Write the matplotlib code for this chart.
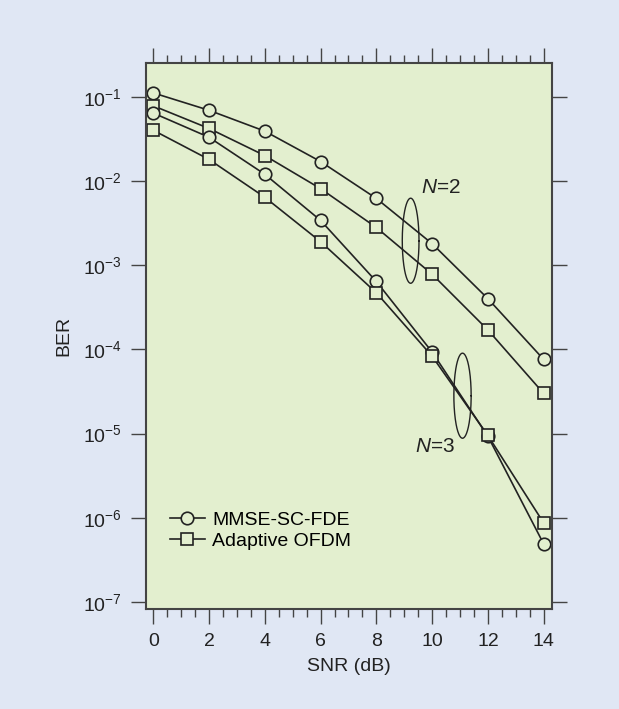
import numpy as np
import matplotlib
matplotlib.use("Agg")
import matplotlib.pyplot as plt
from matplotlib.ticker import MultipleLocator, NullLocator, LogLocator

# --- Data ---
snr_db = [0, 2, 4, 6, 8, 10, 12, 14]

# N = 2
mmse_n2 = [0.111, 0.069, 0.039, 0.017, 0.0062, 0.0018, 4.0e-4, 7.6e-5]
ofdm_n2 = [0.078, 0.042, 0.020, 0.0081, 0.0028, 7.8e-4, 1.7e-4, 3.0e-5]
# N = 3
mmse_n3 = [0.064, 0.033, 0.012, 0.0034, 6.4e-4, 9.3e-5, 9.3e-6, 4.9e-7]
ofdm_n3 = [0.040, 0.018, 0.0064, 0.0019, 4.7e-4, 8.3e-5, 9.5e-6, 8.7e-7]

series_labels = ["MMSE-SC-FDE", "Adaptive OFDM"]

# ellipse groupings: (x center, log10 y center, width in dB, height in decades)
ellipse_n2 = (9.23, -2.71, 0.60, 1.01)
ellipse_n3 = (11.09, -4.55, 0.62, 1.01)

FIG_BG = "#e0e7f4"
AX_BG = "#e3efcf"
INK = "#222222"
SPINE = "#444444"

plt.rcParams["font.family"] = ["Liberation Sans", "DejaVu Sans"]
plt.rcParams["mathtext.fontset"] = "custom"
plt.rcParams["mathtext.rm"] = "Liberation Sans"
plt.rcParams["mathtext.it"] = "Liberation Sans:italic"

fig = plt.figure(figsize=(6.19, 7.09), dpi=100, facecolor=FIG_BG)
ax = fig.add_axes([0.2354, 0.1410, 0.8918 - 0.2354, 0.9111 - 0.1410])
ax.set_facecolor(AX_BG)

style = dict(color=INK, lw=1.2, markersize=9, markeredgewidth=1.2,
             markerfacecolor=AX_BG, markeredgecolor=INK)

ax.plot(snr_db, mmse_n2, marker="o", label=series_labels[0], **style)
ax.plot(snr_db, ofdm_n2, marker="s", label=series_labels[1], **style)
ax.plot(snr_db, mmse_n3, marker="o", **style)
ax.plot(snr_db, ofdm_n3, marker="s", **style)

# grouping ellipses drawn in log space
t = np.linspace(0, 2 * np.pi, 200)
for cx, cy, w, h in (ellipse_n2, ellipse_n3):
    ax.plot(cx + w / 2 * np.cos(t), 10 ** (cy + h / 2 * np.sin(t)),
            color=INK, lw=1.0)

ax.text(9.6, 10 ** -2.08, r"$\it{N}$=2", fontsize=15, color=INK,
        va="center", ha="left")
ax.text(9.4, 10 ** -5.15, r"$\it{N}$=3", fontsize=15, color=INK,
        va="center", ha="left")

ax.set_yscale("log")
ax.set_xlim(-0.27, 14.3)
ax.set_ylim(10 ** -7.083, 10 ** -0.6)

ax.xaxis.set_major_locator(MultipleLocator(2))
ax.xaxis.set_minor_locator(MultipleLocator(0.5))
ax.yaxis.set_major_locator(LogLocator(base=10, numticks=20))
ax.yaxis.set_minor_locator(NullLocator())

ax.tick_params(axis="both", which="major", direction="out", length=11,
               width=1.0, color=SPINE, labelsize=14, labelcolor=INK, pad=6)
ax.tick_params(axis="x", which="minor", direction="out", length=6,
               width=1.0, color=SPINE)
ax.tick_params(axis="x", which="both", top=True, labeltop=False)
ax.tick_params(axis="y", which="both", right=True, labelright=False)

for sp in ax.spines.values():
    sp.set_color(SPINE)
    sp.set_linewidth(1.5)

ax.set_xlabel("SNR (dB)", fontsize=14, color=INK, labelpad=6)
ax.set_ylabel("BER", fontsize=14, color=INK, labelpad=8)

ax.legend(loc="lower left", bbox_to_anchor=(0.035, 0.09), frameon=False,
          fontsize=14, handlelength=1.8, handletextpad=0.4,
          labelspacing=0.2, borderpad=0)

fig.savefig("out.png", dpi=100, facecolor=FIG_BG)
